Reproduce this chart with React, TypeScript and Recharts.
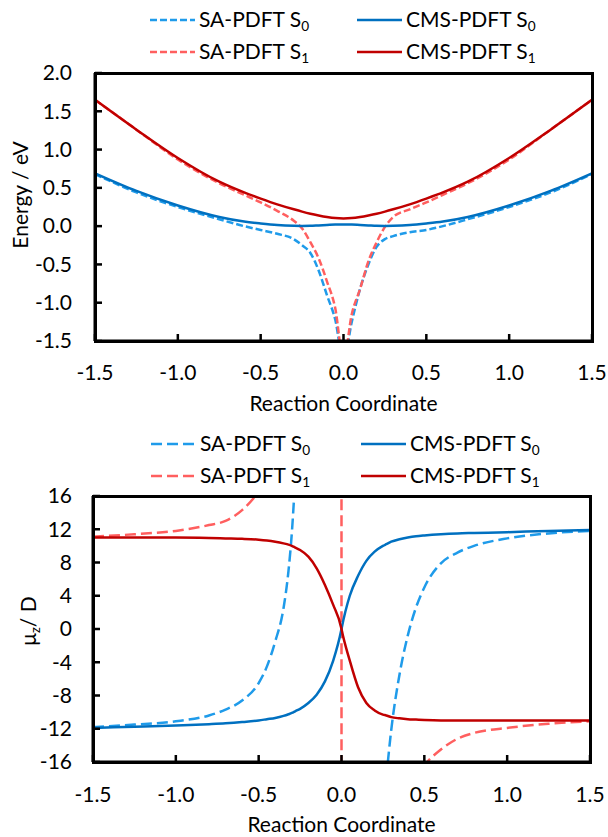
import React from "react";
import { LineChart, Line, XAxis, YAxis, Label } from "recharts";

const FONT = "Lato, 'Open Sans', sans-serif";

const SA_S0 = "#1F9BEA";
const CMS_S0 = "#0070C0";
const SA_S1 = "#FF5F5F";
const CMS_S1 = "#C00000";
const INK = "#000000";
const FRAME_W = 3;

const xTicks = [-1.5, -1.0, -0.5, 0, 0.5, 1.0, 1.5];
const energyTicks = [-1.5, -1.0, -0.5, 0, 0.5, 1.0, 1.5, 2.0];
const dipoleTicks = [-16, -12, -8, -4, 0, 4, 8, 12, 16];

// energy panel (eV)
const energyX = [-1.5, -1.25, -1.0, -0.75, -0.6, -0.5, -0.4, -0.3, -0.25, -0.2, -0.15, -0.1, -0.05, 0, 0.05, 0.1, 0.15, 0.2, 0.25, 0.3, 0.4, 0.5, 0.6, 0.75, 1.0, 1.25, 1.5];
const saS0Energy = [0.68, 0.44, 0.25, 0.09, 0.0, -0.05, -0.1, -0.17, -0.25, -0.35, -0.58, -0.9, -1.22, -1.75, -1.25, -0.82, -0.5, -0.27, -0.17, -0.13, -0.08, -0.05, 0.0, 0.09, 0.25, 0.44, 0.68];
const saS1Energy = [1.65, 1.26, 0.87, 0.56, 0.41, 0.31, 0.2, 0.07, -0.03, -0.21, -0.42, -0.72, -1.07, -1.75, -1.15, -0.82, -0.46, -0.21, -0.01, 0.12, 0.22, 0.31, 0.41, 0.56, 0.87, 1.26, 1.65];
const cmsS0Energy = [0.69, 0.46, 0.27, 0.12, 0.06, 0.035, 0.015, 0.005, 0.003, 0.005, 0.01, 0.015, 0.02, 0.02, 0.02, 0.015, 0.01, 0.005, 0.003, 0.005, 0.015, 0.035, 0.06, 0.12, 0.27, 0.46, 0.69];
const cmsS1Energy = [1.65, 1.26, 0.89, 0.58, 0.44, 0.36, 0.285, 0.22, 0.19, 0.163, 0.14, 0.12, 0.105, 0.1, 0.105, 0.12, 0.14, 0.163, 0.19, 0.22, 0.285, 0.36, 0.44, 0.58, 0.89, 1.26, 1.65];

// dipole panel (Debye)
const dipoleX = [-1.5, -1.25, -1.0, -0.8, -0.7, -0.6, -0.5, -0.45, -0.4, -0.35, -0.32, -0.3, -0.28, -0.25, -0.2, -0.15, -0.1, -0.05, -0.001, 0.001, 0.05, 0.1, 0.15, 0.2, 0.25, 0.27, 0.3, 0.35, 0.4, 0.45, 0.5, 0.6, 0.7, 0.8, 1.0, 1.25, 1.5];
const saS0Dipole = [-11.8, -11.5, -11.1, -10.4, -9.7, -8.6, -6.5, -4.5, -1.5, 2.5, 7.0, 11.5, 18.0, null, null, null, null, null, null, null, null, null, null, null, null, -18.0, -12.2, -5.5, -0.8, 2.6, 5.0, 7.9, 9.2, 10.0, 10.9, 11.5, 11.8];
const saS1Dipole = [11.1, 11.4, 11.8, 12.5, 13.0, 14.3, 16.5, 18, 20, 22, 23.5, 25, 26, 28, 32, 38, 48, 70, 200, -200, -70, -48, -38, -32, -28, -26, -25, -22, -19.5, -17.8, -16.4, -14.5, -13.2, -12.5, -11.9, -11.4, -11.1];
const cmsS0Dipole = [-11.9, -11.75, -11.6, -11.45, -11.35, -11.2, -11.0, -10.85, -10.7, -10.45, -10.25, -10.1, -9.9, -9.6, -8.9, -7.9, -6.3, -3.8, -0.1, 0.1, 4.0, 6.4, 8.2, 9.3, 10.0, 10.2, 10.5, 10.8, 11.0, 11.15, 11.25, 11.4, 11.5, 11.55, 11.65, 11.8, 11.9];
const cmsS1Dipole = [11.0, 11.0, 11.0, 10.95, 10.9, 10.85, 10.75, 10.65, 10.5, 10.3, 10.15, 10.0, 9.8, 9.5, 8.7, 7.3, 5.3, 2.9, 0.1, -0.1, -3.8, -7.0, -8.9, -9.8, -10.3, -10.4, -10.6, -10.75, -10.85, -10.9, -10.95, -11.0, -11.0, -11.0, -11.0, -11.0, -11.0];

const energyRows = energyX.map((x, i) => ({
  x,
  saS0: saS0Energy[i],
  saS1: saS1Energy[i],
  cmsS0: cmsS0Energy[i],
  cmsS1: cmsS1Energy[i],
}));

const dipoleRows = dipoleX.map((x, i) => ({
  x,
  saS0: saS0Dipole[i],
  saS1: saS1Dipole[i],
  cmsS0: cmsS0Dipole[i],
  cmsS1: cmsS1Dipole[i],
}));

const TICK_LEN = 7;

// ticks point into the plot, so the marks are drawn together with the labels
const xTick = (gap: number) => (props: any) => {
  const { x, y, payload } = props;
  const axisY = y - gap;
  return (
    <g>
      <rect x={x - 1.25} y={axisY - TICK_LEN} width={2.5} height={TICK_LEN} fill={INK} />
      <text x={x} y={y} dy="0.71em" textAnchor="middle" fill={INK} fontSize={21} fontFamily={FONT}>
        {Number(payload.value).toFixed(1)}
      </text>
    </g>
  );
};

const yTick = (gap: number, digits: number) => (props: any) => {
  const { x, y, payload } = props;
  const axisX = x + gap;
  return (
    <g>
      <rect x={axisX} y={y - 1.25} width={TICK_LEN} height={2.5} fill={INK} />
      <text x={x} y={y} dy="0.35em" textAnchor="end" fill={INK} fontSize={21} fontFamily={FONT}>
        {Number(payload.value).toFixed(digits)}
      </text>
    </g>
  );
};

function LegendItem({ left, top, color, dash, name, sub }: any) {
  return (
    <div style={{ position: "absolute", left, top: top - 15, height: 30, display: "flex", alignItems: "center", whiteSpace: "nowrap" }}>
      <svg width={45} height={6} style={{ display: "block" }}>
        <line x1={0} x2={45} y1={3} y2={3} stroke={color} strokeWidth={2.5} strokeDasharray={dash} />
      </svg>
      <span style={{ marginLeft: 4, fontSize: 21, lineHeight: "30px", color: INK }}>
        {name} S<span style={{ fontSize: "0.65em", position: "relative", top: "0.3em" }}>{sub}</span>
      </span>
    </div>
  );
}

function ChartLegend({ top, gap, dash, col1, col2 }: any) {
  return (
    <>
      <LegendItem left={col1} top={top} color={SA_S0} dash={dash} name="SA-PDFT" sub="0" />
      <LegendItem left={col2} top={top} color={CMS_S0} name="CMS-PDFT" sub="0" />
      <LegendItem left={col1} top={top + gap} color={SA_S1} dash={dash} name="SA-PDFT" sub="1" />
      <LegendItem left={col2} top={top + gap} color={CMS_S1} name="CMS-PDFT" sub="1" />
    </>
  );
}

// plot box outline drawn over the chart
function Frame({ left, top, width, height }: any) {
  const w = FRAME_W;
  return (
    <div
      style={{
        position: "absolute",
        left: left - w / 2,
        top: top - w / 2,
        width: width + w,
        height: height + w,
        border: `${w}px solid ${INK}`,
        boxSizing: "border-box",
        pointerEvents: "none",
        zIndex: 5,
      }}
    />
  );
}

const xTitle = (props: any) => {
  const vb = props.viewBox;
  return (
    <text x={vb.x + vb.width / 2} y={vb.y + 70} textAnchor="middle" fill={INK} fontSize={21} fontFamily={FONT}>
      Reaction Coordinate
    </text>
  );
};

const energyTitle = (props: any) => {
  const vb = props.viewBox;
  const cy = vb.y + vb.height / 2 - 12;
  return (
    <text x={0} y={0} transform={`translate(${vb.x + 8}, ${cy}) rotate(-90)`} textAnchor="middle" fill={INK} fontSize={21} fontFamily={FONT}>
      Energy / eV
    </text>
  );
};

const dipoleTitle = (props: any) => {
  const vb = props.viewBox;
  const cy = vb.y + vb.height / 2 - 8;
  return (
    <text x={0} y={0} transform={`translate(${vb.x + 16}, ${cy}) rotate(-90)`} textAnchor="middle" fill={INK} fontSize={21} fontFamily={FONT}>
      μ<tspan dy={4} fontSize={13}>z</tspan>
      <tspan dy={-4}>/ D</tspan>
    </text>
  );
};

function seriesLines(dash: string) {
  return [
    <Line key="saS0" type="monotone" dataKey="saS0" stroke={SA_S0} strokeWidth={2.5} strokeDasharray={dash} dot={false} isAnimationActive={false} />,
    <Line key="saS1" type="monotone" dataKey="saS1" stroke={SA_S1} strokeWidth={2.5} strokeDasharray={dash} dot={false} isAnimationActive={false} />,
    <Line key="cmsS0" type="monotone" dataKey="cmsS0" stroke={CMS_S0} strokeWidth={2.5} dot={false} isAnimationActive={false} />,
    <Line key="cmsS1" type="monotone" dataKey="cmsS1" stroke={CMS_S1} strokeWidth={2.5} dot={false} isAnimationActive={false} />,
  ];
}

const TOP_M = { top: 73, right: 16, bottom: 0, left: 20 };
const TOP_H = 420;
const TOP_XAXIS_H = 79;
const TOP_YAXIS_W = 75;

const BOT_Y = 420;
const BOT_M = { top: 76, right: 18, bottom: 0, left: 20 };
const BOT_H = 417;
const BOT_XAXIS_H = 75;
const BOT_YAXIS_W = 73;

export default function App() {
  const topPlot = {
    left: TOP_M.left + TOP_YAXIS_W,
    top: TOP_M.top,
    width: 608 - TOP_M.left - TOP_YAXIS_W - TOP_M.right,
    height: TOP_H - TOP_M.top - TOP_XAXIS_H,
  };
  const botPlot = {
    left: BOT_M.left + BOT_YAXIS_W,
    top: BOT_Y + BOT_M.top,
    width: 608 - BOT_M.left - BOT_YAXIS_W - BOT_M.right,
    height: BOT_H - BOT_M.top - BOT_XAXIS_H,
  };

  return (
    <div style={{ position: "absolute", left: 0, top: 0, width: 608, height: 837, overflow: "hidden", background: "#fff", fontFamily: FONT }}>
      <ChartLegend top={20} gap={32} dash="7 3" col1={150} col2={357} />
      <div style={{ position: "absolute", left: 0, top: 0 }}>
        <LineChart width={608} height={TOP_H} data={energyRows} margin={TOP_M}>
          <XAxis
            type="number"
            dataKey="x"
            domain={[-1.5, 1.5]}
            ticks={xTicks}
            allowDataOverflow
            height={TOP_XAXIS_H}
            axisLine={{ stroke: INK, strokeWidth: FRAME_W }}
            tickLine={false}
            tickSize={0}
            tickMargin={24}
            tick={xTick(24)}
            interval={0}
          >
            <Label content={xTitle} />
          </XAxis>
          <YAxis
            type="number"
            domain={[-1.5, 2]}
            ticks={energyTicks}
            allowDataOverflow
            width={TOP_YAXIS_W}
            axisLine={{ stroke: INK, strokeWidth: FRAME_W }}
            tickLine={false}
            tickSize={0}
            tickMargin={23}
            tick={yTick(23, 1)}
            interval={0}
          >
            <Label content={energyTitle} />
          </YAxis>
          {seriesLines("7 3")}
        </LineChart>
      </div>

      <ChartLegend top={444} gap={32} dash="11 5" col1={151} col2={361} />
      <div style={{ position: "absolute", left: 0, top: BOT_Y }}>
        <LineChart width={608} height={BOT_H} data={dipoleRows} margin={BOT_M}>
          <XAxis
            type="number"
            dataKey="x"
            domain={[-1.5, 1.5]}
            ticks={xTicks}
            allowDataOverflow
            height={BOT_XAXIS_H}
            axisLine={{ stroke: INK, strokeWidth: FRAME_W }}
            tickLine={false}
            tickSize={0}
            tickMargin={25}
            tick={xTick(25)}
            interval={0}
          >
            <Label content={xTitle} />
          </XAxis>
          <YAxis
            type="number"
            domain={[-16, 16]}
            ticks={dipoleTicks}
            allowDataOverflow
            width={BOT_YAXIS_W}
            axisLine={{ stroke: INK, strokeWidth: FRAME_W }}
            tickLine={false}
            tickSize={0}
            tickMargin={21}
            tick={yTick(21, 0)}
            interval={0}
          >
            <Label content={dipoleTitle} />
          </YAxis>
          {seriesLines("11 5")}
        </LineChart>
      </div>
      <Frame {...topPlot} />
      <Frame {...botPlot} />
    </div>
  );
}
